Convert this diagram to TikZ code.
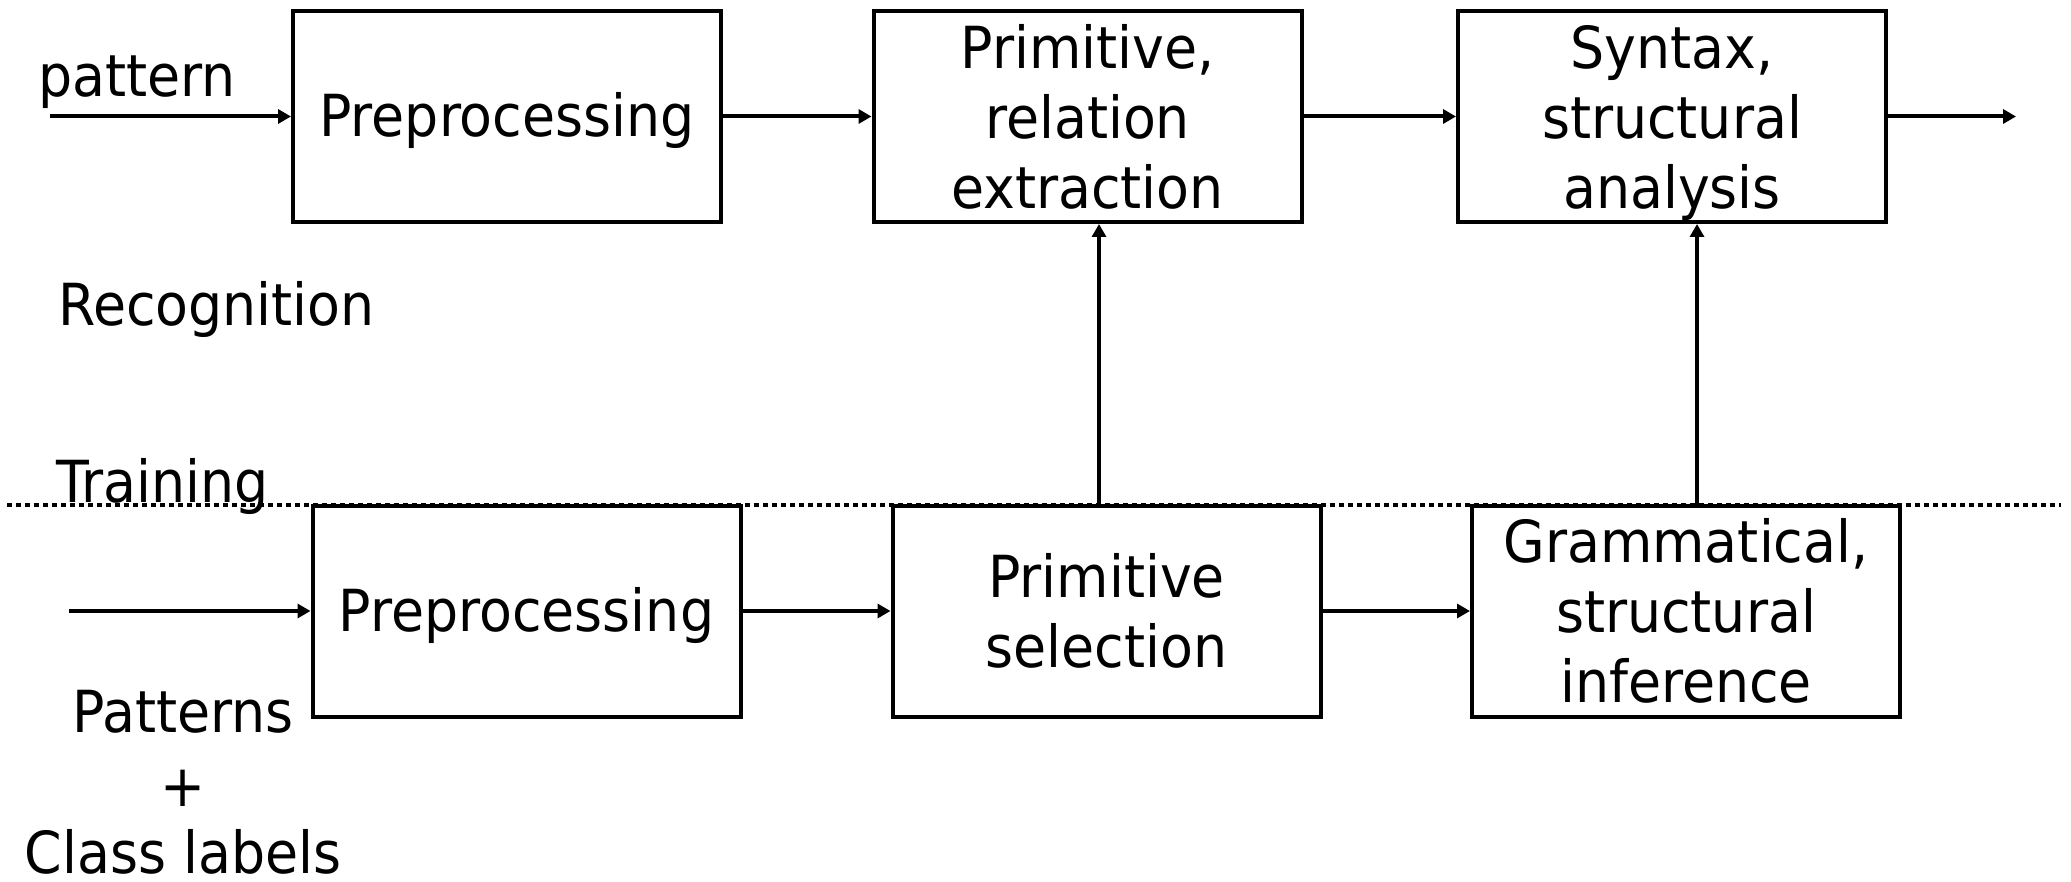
\documentclass[tikz,border=0pt]{standalone}
\usepackage{fontspec}
\setmainfont{DejaVu Sans}[FakeStretch=0.927]
\usetikzlibrary{arrows.meta}
\newcommand\diagfont{\fontsize{58}{70}\selectfont}
\newcommand\boxstrut{\rule[-0.236em]{0pt}{1.164em}}
\begin{document}
\begin{tikzpicture}[x=1pt,y=-1pt,
  box/.style={draw, line width=4pt, minimum width=428pt, minimum height=211pt, inner sep=0pt, align=center, font=\diagfont, fill=white},
  arr/.style={line width=4pt, -{Triangle[length=13pt,width=14pt]}},
  lbl/.style={font=\diagfont, inner sep=0pt},
  sep/.style={line width=3.5pt, dash pattern=on 4.5pt off 4.5pt}]
\fill[white] (0,0) rectangle (2071,882);
\useasboundingbox (0,0) rectangle (2071,882);

% separator
\coordinate (sepL) at (7,505);
\coordinate (sepR) at (2061,505);
\draw[sep] (sepL) -- (sepR);

% recognition row
\node[box] (A1) at (507,116.5) {\boxstrut Preprocessing\boxstrut};
\node[box] (A2) at (1087.5,116.5) {Primitive,\\relation\\extraction};
\node[box] (A3) at (1672,116.5) {Syntax,\\structural\\\smash{analysis}};

% training row
\node[box] (B1) at (526.5,611) {\boxstrut Preprocessing\boxstrut};
\node[box] (B2) at (1106.5,611) {Primitive\\selection};
\node[box] (B3) at (1686,611) {Grammatical,\\structural\\inference};

% labels
\node[lbl, anchor=base west] (pat) at (38,97) {pattern};
\node[lbl, anchor=base west] (rec) at (58,326) {Recognition};
\node[lbl, anchor=base west] (tra) at (56,502) {Training};
\node[lbl, anchor=base] (pats) at (183,732) {Patterns};
\node[lbl, anchor=base] (plus) at (183,806) {+};
\node[lbl, anchor=base] (cls) at (183,873) {Class labels};

% connectors
\coordinate (inA) at (50,116.5);
\coordinate (outA) at (2016,116.5);
\coordinate (inB) at (69,611);
\draw[arr] (inA) -- (A1.west);
\draw[arr] (A1.east) -- (A2.west);
\draw[arr] (A2.east) -- (A3.west);
\draw[arr] (A3.east) -- (outA);
\draw[arr] (inB) -- (B1.west);
\draw[arr] (B1.east) -- (B2.west);
\draw[arr] (B2.east) -- (B3.west);
\draw[arr] ([xshift=-7.5pt]B2.north) -- ([xshift=-7.5pt]B2.north |- A2.south);
\draw[arr] ([xshift=11pt]B3.north) -- ([xshift=11pt]B3.north |- A3.south);
\end{tikzpicture}
\end{document}
